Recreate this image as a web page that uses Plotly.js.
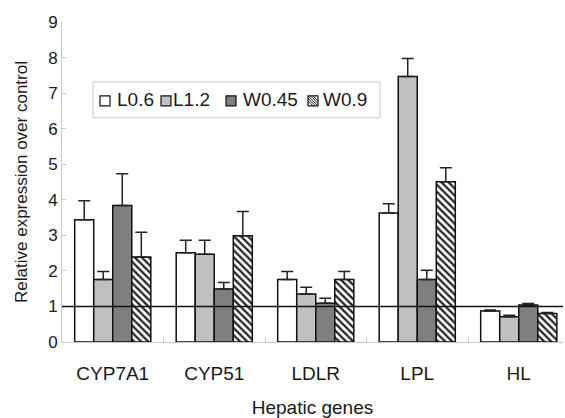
<!DOCTYPE html>
<html>
<head>
<meta charset="utf-8">
<script src="https://cdn.plot.ly/plotly-3.0.1.min.js"></script>
<style>html,body{margin:0;padding:0;background:#fff;}#chart{width:565px;height:418px;}</style>
</head>
<body>
<div id="chart"></div>
<script>
var genes = ["CYP7A1", "CYP51", "LDLR", "LPL", "HL"];
var seriesNames = ["L0.6", "L1.2", "W0.45", "W0.9"];
var L06 = [3.44, 2.51, 1.76, 3.63, 0.87];
var L06_err = [0.53, 0.35, 0.22, 0.26, 0.03];
var L12 = [1.76, 2.47, 1.35, 7.47, 0.71];
var L12_err = [0.22, 0.39, 0.19, 0.50, 0.04];
var W045 = [3.84, 1.49, 1.09, 1.76, 1.04];
var W045_err = [0.89, 0.18, 0.14, 0.26, 0.04];
var W09 = [2.39, 2.99, 1.76, 4.51, 0.80];
var W09_err = [0.70, 0.68, 0.22, 0.39, 0.03];
var controlLevel = 1;
var yTicks = [0, 1, 2, 3, 4, 5, 6, 7, 8, 9];

var FONT = "Liberation Sans, Arial, sans-serif";
var TEXT = "#1a1a1a";
var fills = ["#ffffff", "#c0c0c0", "#7f7f7f", "#ffffff"];
var values = [L06, L12, W045, W09];
var errs = [L06_err, L12_err, W045_err, W09_err];

var W = 565, H = 418;
var M = {l: 62, r: 2, t: 22, b: 75.5};
var pw = W - M.l - M.r, ph = H - M.t - M.b;
function px2x(px) { return (px - M.l) / pw; }
function py2y(py) { return (H - M.b - py) / ph; }

var traces = seriesNames.map(function (name, i) {
  var marker = {color: fills[i], line: {color: "#111", width: 1.5}};
  if (i === 3) {
    marker.pattern = {shape: "\\", fgcolor: "#222", bgcolor: "#ffffff", size: 5, solidity: 0.45};
  }
  return {
    type: "bar", name: name, x: genes, y: values[i], marker: marker,
    error_y: {type: "data", array: errs[i], symmetric: false, arrayminus: errs[i].map(function(){return 0;}),
              color: "#222", thickness: 1.5, width: 6},
    hoverinfo: "skip", showlegend: false
  };
});

/* reference line at control level + legend box (layout decoration) */
var shapes = [{
  type: "line", xref: "paper", x0: 0, x1: 1, yref: "y", y0: controlLevel, y1: controlLevel,
  line: {color: "#111", width: 1.5}, layer: "above"
}, {
  type: "rect", xref: "paper", yref: "paper",
  x0: px2x(93), x1: px2x(380), y0: py2y(118), y1: py2y(82),
  line: {color: "#c8c8c8", width: 1}, fillcolor: "#ffffff", layer: "above"
}];
var annotations = [];
var symLeft = [100, 161, 226, 308];
var textLeft = [117, 173, 243, 323];
var symTop = 96, symSize = 10, textMid = 100;
seriesNames.forEach(function (name, i) {
  var x0 = symLeft[i], x1 = x0 + symSize, y0 = symTop, y1 = symTop + symSize;
  shapes.push({
    type: "rect", xref: "paper", yref: "paper",
    x0: px2x(x0), x1: px2x(x1), y0: py2y(y1), y1: py2y(y0),
    line: {color: "#111", width: 1.2}, fillcolor: fills[i], layer: "above"
  });
  if (i === 3) {
    var segs = [[0, 0, 10, 10], [0, 5, 5, 10], [5, 0, 10, 5], [0, 2.5, 7.5, 10], [2.5, 0, 10, 7.5]];
    segs.forEach(function (s) {
      shapes.push({
        type: "line", xref: "paper", yref: "paper",
        x0: px2x(x0 + s[0]), y0: py2y(y0 + s[1]), x1: px2x(x0 + s[2]), y1: py2y(y0 + s[3]),
        line: {color: "#222", width: 1}, layer: "above"
      });
    });
  }
  annotations.push({
    xref: "paper", yref: "paper", x: px2x(textLeft[i]), y: py2y(textMid),
    xanchor: "left", yanchor: "middle", showarrow: false, text: name,
    font: {family: FONT, size: 19, color: TEXT}, xshift: -2
  });
});

var layout = {
  width: W, height: H,
  margin: {l: M.l, r: M.r, t: M.t, b: M.b, pad: 0},
  paper_bgcolor: "#fff", plot_bgcolor: "#fff",
  barmode: "group", bargap: 0.25, bargroupgap: 0,
  font: {family: FONT, color: TEXT, size: 17},
  showlegend: false,
  xaxis: {
    type: "category", range: [-0.5, 4.436],
    showline: true, linecolor: "#c8c8c8", linewidth: 1,
    ticks: "inside", tickson: "boundaries", ticklen: 5, tickcolor: "#c8c8c8",
    tickfont: {family: FONT, size: 19, color: TEXT}, ticklabelstandoff: 14,
    showgrid: false, zeroline: false,
    title: {text: "Hepatic genes", font: {family: FONT, size: 19, color: TEXT}, standoff: 18}
  },
  yaxis: {
    range: [0, 9], tickvals: yTicks, ticktext: yTicks.map(String),
    showline: true, linecolor: "#c8c8c8", linewidth: 1,
    ticks: "inside", ticklen: 4, tickcolor: "#c8c8c8",
    tickfont: {family: FONT, size: 17, color: TEXT},
    showgrid: false, zeroline: false,
    title: {text: "Relative expression over control", font: {family: FONT, size: 17, color: TEXT}, standoff: 16}
  },
  shapes: shapes, annotations: annotations
};
Plotly.newPlot("chart", traces, layout, {displayModeBar: false, staticPlot: true});
</script>
</body>
</html>
